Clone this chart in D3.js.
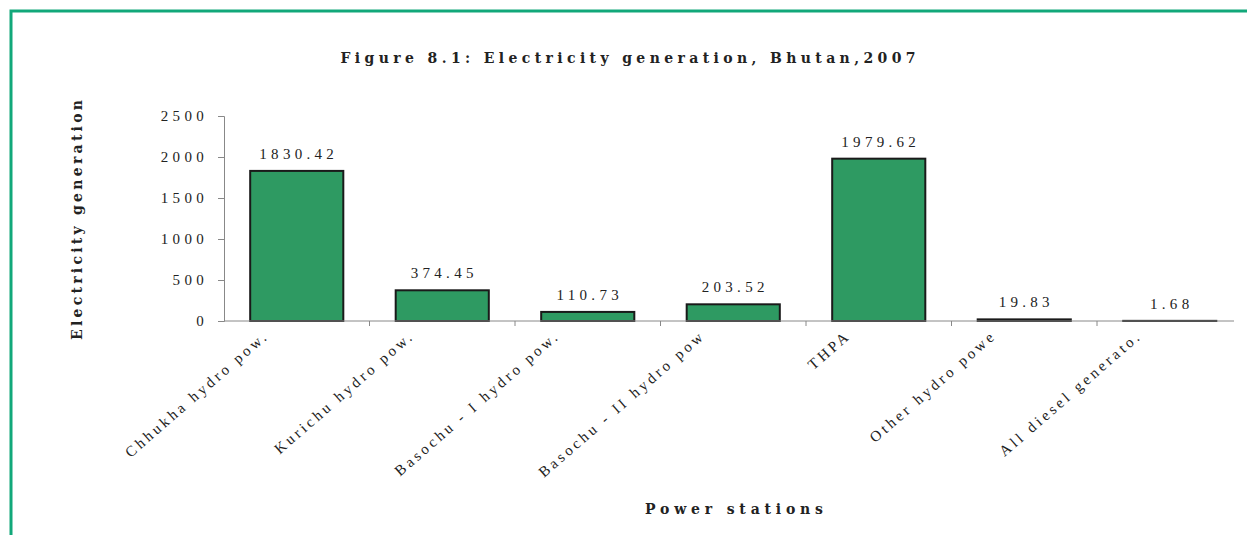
<!DOCTYPE html>
<html><head><meta charset="utf-8">
<script src="https://cdn.jsdelivr.net/npm/d3@7"></script>
<style>
body{margin:0;background:#fff;}
text{font-family:"Liberation Serif","DejaVu Serif",serif;fill:#222;}
text.ttl{font-family:"DejaVu Serif","Liberation Serif",serif;}
</style></head>
<body><svg id="c" width="1247" height="535"></svg>
<script>
const categories = ["Chhukha hydro pow.","Kurichu hydro pow.","Basochu - I hydro pow.","Basochu - II hydro pow","THPA","Other hydro powe","All diesel generato."];
const values = [1830.42,374.45,110.73,203.52,1979.62,19.83,1.68];
const valueLabels = ["1830.42","374.45","110.73","203.52","1979.62","19.83","1.68"];
const yTicks = [0,500,1000,1500,2000,2500];
const yTickLabels = ["0","500","1000","1500","2000","2500"];
const title = "Figure 8.1: Electricity generation, Bhutan,2007";
const yTitle = "Electricity generation";
const xTitle = "Power stations";

const svg = d3.select("#c");
// green frame
svg.append("path").attr("d","M11,535 V11 H1247").attr("fill","none").attr("stroke","#12a87a").attr("stroke-width",3);

const m = {left:224, right:1242.5, top:116, bottom:321, axisEnd:1234};
const x = d3.scaleBand().domain(categories).range([m.left,m.right]).paddingInner(0.36).paddingOuter(0.18);
const y = d3.scaleLinear().domain([0,2500]).range([m.bottom,m.top]);

// y axis
const ya = svg.append("g").attr("transform",`translate(${m.left},0)`)
  .call(d3.axisLeft(y).tickValues(yTicks).tickFormat((d,i)=>yTickLabels[i]).tickSize(6).tickPadding(14));
ya.selectAll("path,line").attr("stroke","#888");
ya.selectAll("text").attr("font-size",15).attr("letter-spacing","4.3px").attr("fill","#333").attr("dx","4");

// bars
svg.selectAll("rect.bar").data(values).join("rect").attr("class","bar")
  .attr("x",(d,i)=>x(categories[i])).attr("width",x.bandwidth())
  .attr("y",d=>y(d)).attr("height",d=>y(0)-y(d))
  .attr("fill","#2e9a62").attr("stroke","#1a1a1a").attr("stroke-width",2);

// x axis line and ticks at band boundaries
const step = x.step();
const xa = svg.append("g");
xa.append("line").attr("x1",m.left).attr("x2",m.axisEnd).attr("y1",m.bottom).attr("y2",m.bottom).attr("stroke","#888");
xa.selectAll("line.t").data(categories.slice(1)).join("line").attr("class","t")
  .attr("x1",d=>x(d)-(step-x.bandwidth())/2).attr("x2",d=>x(d)-(step-x.bandwidth())/2)
  .attr("y1",m.bottom).attr("y2",m.bottom+5).attr("stroke","#888");

// value labels
svg.selectAll("text.val").data(values).join("text").attr("class","val")
  .attr("x",(d,i)=>x(categories[i])+x.bandwidth()/2+2).attr("y",d=>y(d)-12)
  .attr("text-anchor","middle").attr("font-size",15).attr("letter-spacing","4.3px").attr("fill","#333")
  .text((d,i)=>valueLabels[i]);

// category labels
svg.selectAll("text.cat").data(categories).join("text").attr("class","cat")
  .attr("transform",d=>`translate(${x(d)+x.bandwidth()/2-27},${m.bottom+16}) rotate(-41)`)
  .attr("text-anchor","end").attr("font-size",15).attr("letter-spacing","3.3px").attr("fill","#333")
  .text(d=>d);

// titles
svg.append("text").attr("class","ttl").attr("x",628).attr("y",63).attr("text-anchor","middle")
  .attr("font-size",14).attr("font-weight","bold").attr("textLength",575).attr("lengthAdjust","spacing").text(title);
svg.append("text").attr("class","ttl").attr("transform","translate(82,220) rotate(-90)").attr("text-anchor","middle")
  .attr("font-size",14).attr("font-weight","bold").attr("textLength",240).attr("lengthAdjust","spacing").text(yTitle);
svg.append("text").attr("class","ttl").attr("x",734).attr("y",514).attr("text-anchor","middle")
  .attr("font-size",14).attr("font-weight","bold").attr("textLength",178).attr("lengthAdjust","spacing").text(xTitle);
</script></body></html>
